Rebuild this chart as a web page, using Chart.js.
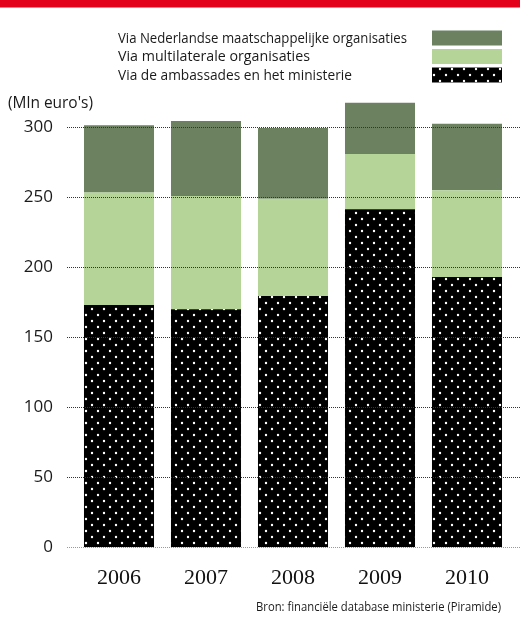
<!DOCTYPE html>
<html>
<head>
<meta charset="utf-8">
<script src="https://cdn.jsdelivr.net/npm/chart.js@4/dist/chart.umd.min.js"></script>
<style>
  html, body { margin: 0; padding: 0; background: #fff; }
  #wrap { width: 520px; height: 617px; position: relative; }
</style>
</head>
<body>
<div id="wrap"><canvas id="steunChart"></canvas></div>
<script>
// data
const years = ['2006', '2007', '2008', '2009', '2010'];
const viaAmbassades = [173, 170, 179.5, 241.5, 193];
const viaMultilateraal = [80.5, 81, 69.5, 39.5, 62];
const viaNederlands = [48, 53.5, 50.5, 36.5, 47.5];
const yTicks = [0, 50, 100, 150, 200, 250, 300];

const labelNederlands = 'Via Nederlandse maatschappelijke organisaties';
const labelMultilateraal = 'Via multilaterale organisaties';
const labelAmbassades = 'Via de ambassades en het ministerie';

// black with white dots
function makeDots() {
  const c = document.createElement('canvas');
  c.width = 12;
  c.height = 12;
  const g = c.getContext('2d');
  g.fillStyle = '#000';
  g.fillRect(0, 0, 12, 12);
  g.fillStyle = '#fff';
  [[2, 3], [8, 9]].forEach(p => {
    g.beginPath();
    g.arc(p[0], p[1], 1.2, 0, Math.PI * 2);
    g.fill();
  });
  return g.createPattern(c, 'repeat');
}
const dots = makeDots();

const extras = {
  id: 'extras',
  afterDatasetsDraw(chart) {
    const ctx = chart.ctx;
    const y = chart.scales.y;
    ctx.save();
    ctx.lineWidth = 1;
    ctx.setLineDash([1, 1]);
    yTicks.forEach(v => {
      const py = Math.round(y.getPixelForValue(v)) + 0.5;
      ctx.strokeStyle = v === 0 ? '#999' : '#333';
      ctx.beginPath();
      ctx.moveTo(67, py);
      ctx.lineTo(520, py);
      ctx.stroke();
    });
    ctx.restore();
  },
  afterDraw(chart) {
    const ctx = chart.ctx;
    const ds = chart.data.datasets;
    ctx.save();
    // red band
    ctx.fillStyle = '#e2001a';
    ctx.fillRect(0, 0, 520, 7.5);

    // legend, top item = top of stack
    ctx.font = '15px "Open Sans"';
    ctx.textBaseline = 'middle';
    const rows = [38.5, 57, 75.5];
    const widths = [289, 192, 234];
    [2, 1, 0].forEach((i, n) => {
      ctx.fillStyle = '#1a1a1a';
      ctx.textAlign = 'left';
      ctx.fillText(ds[i].label, 118, rows[n], widths[n]);
      ctx.fillStyle = ds[i].backgroundColor;
      ctx.fillRect(432, rows[n] - 8, 70, 15);
    });

    ctx.fillStyle = '#1a1a1a';
    ctx.font = '16px "Open Sans"';
    ctx.fillText("(Mln euro's)", 8, 103, 85);

    ctx.font = '12px "Open Sans"';
    ctx.textAlign = 'right';
    ctx.fillText('Bron: financiële database ministerie (Piramide)', 501, 608, 245);
    ctx.restore();
  }
};

new Chart(document.getElementById('steunChart'), {
  type: 'bar',
  data: {
    labels: years,
    datasets: [
      { label: labelAmbassades, data: viaAmbassades, backgroundColor: dots },
      { label: labelMultilateraal, data: viaMultilateraal, backgroundColor: '#b5d598' },
      { label: labelNederlands, data: viaNederlands, backgroundColor: '#6b8160' }
    ]
  },
  options: {
    responsive: true,
    maintainAspectRatio: false,
    animation: false,
    layout: { padding: { top: 85.3, right: 9.5, bottom: 0, left: 0 } },
    datasets: {
      bar: { barPercentage: 0.805, categoryPercentage: 1, borderWidth: 0 }
    },
    plugins: {
      legend: { display: false },
      tooltip: { enabled: false }
    },
    scales: {
      x: {
        stacked: true,
        grid: { display: false },
        border: { display: false },
        ticks: {
          color: '#111',
          padding: 10,
          font: { family: 'Liberation Serif', size: 22 }
        },
        afterFit: s => { s.height = 617 - 547.3; }
      },
      y: {
        stacked: true,
        min: 0,
        max: 330,
        grid: { display: false },
        border: { display: false },
        afterBuildTicks: s => { s.ticks = yTicks.map(v => ({ value: v })); },
        afterFit: s => { s.width = 75.5; },
        ticks: {
          color: '#1a1a1a',
          padding: 14.5,
          font: { family: 'Open Sans', size: 17 }
        }
      }
    }
  },
  plugins: [extras]
});
</script>
</body>
</html>
